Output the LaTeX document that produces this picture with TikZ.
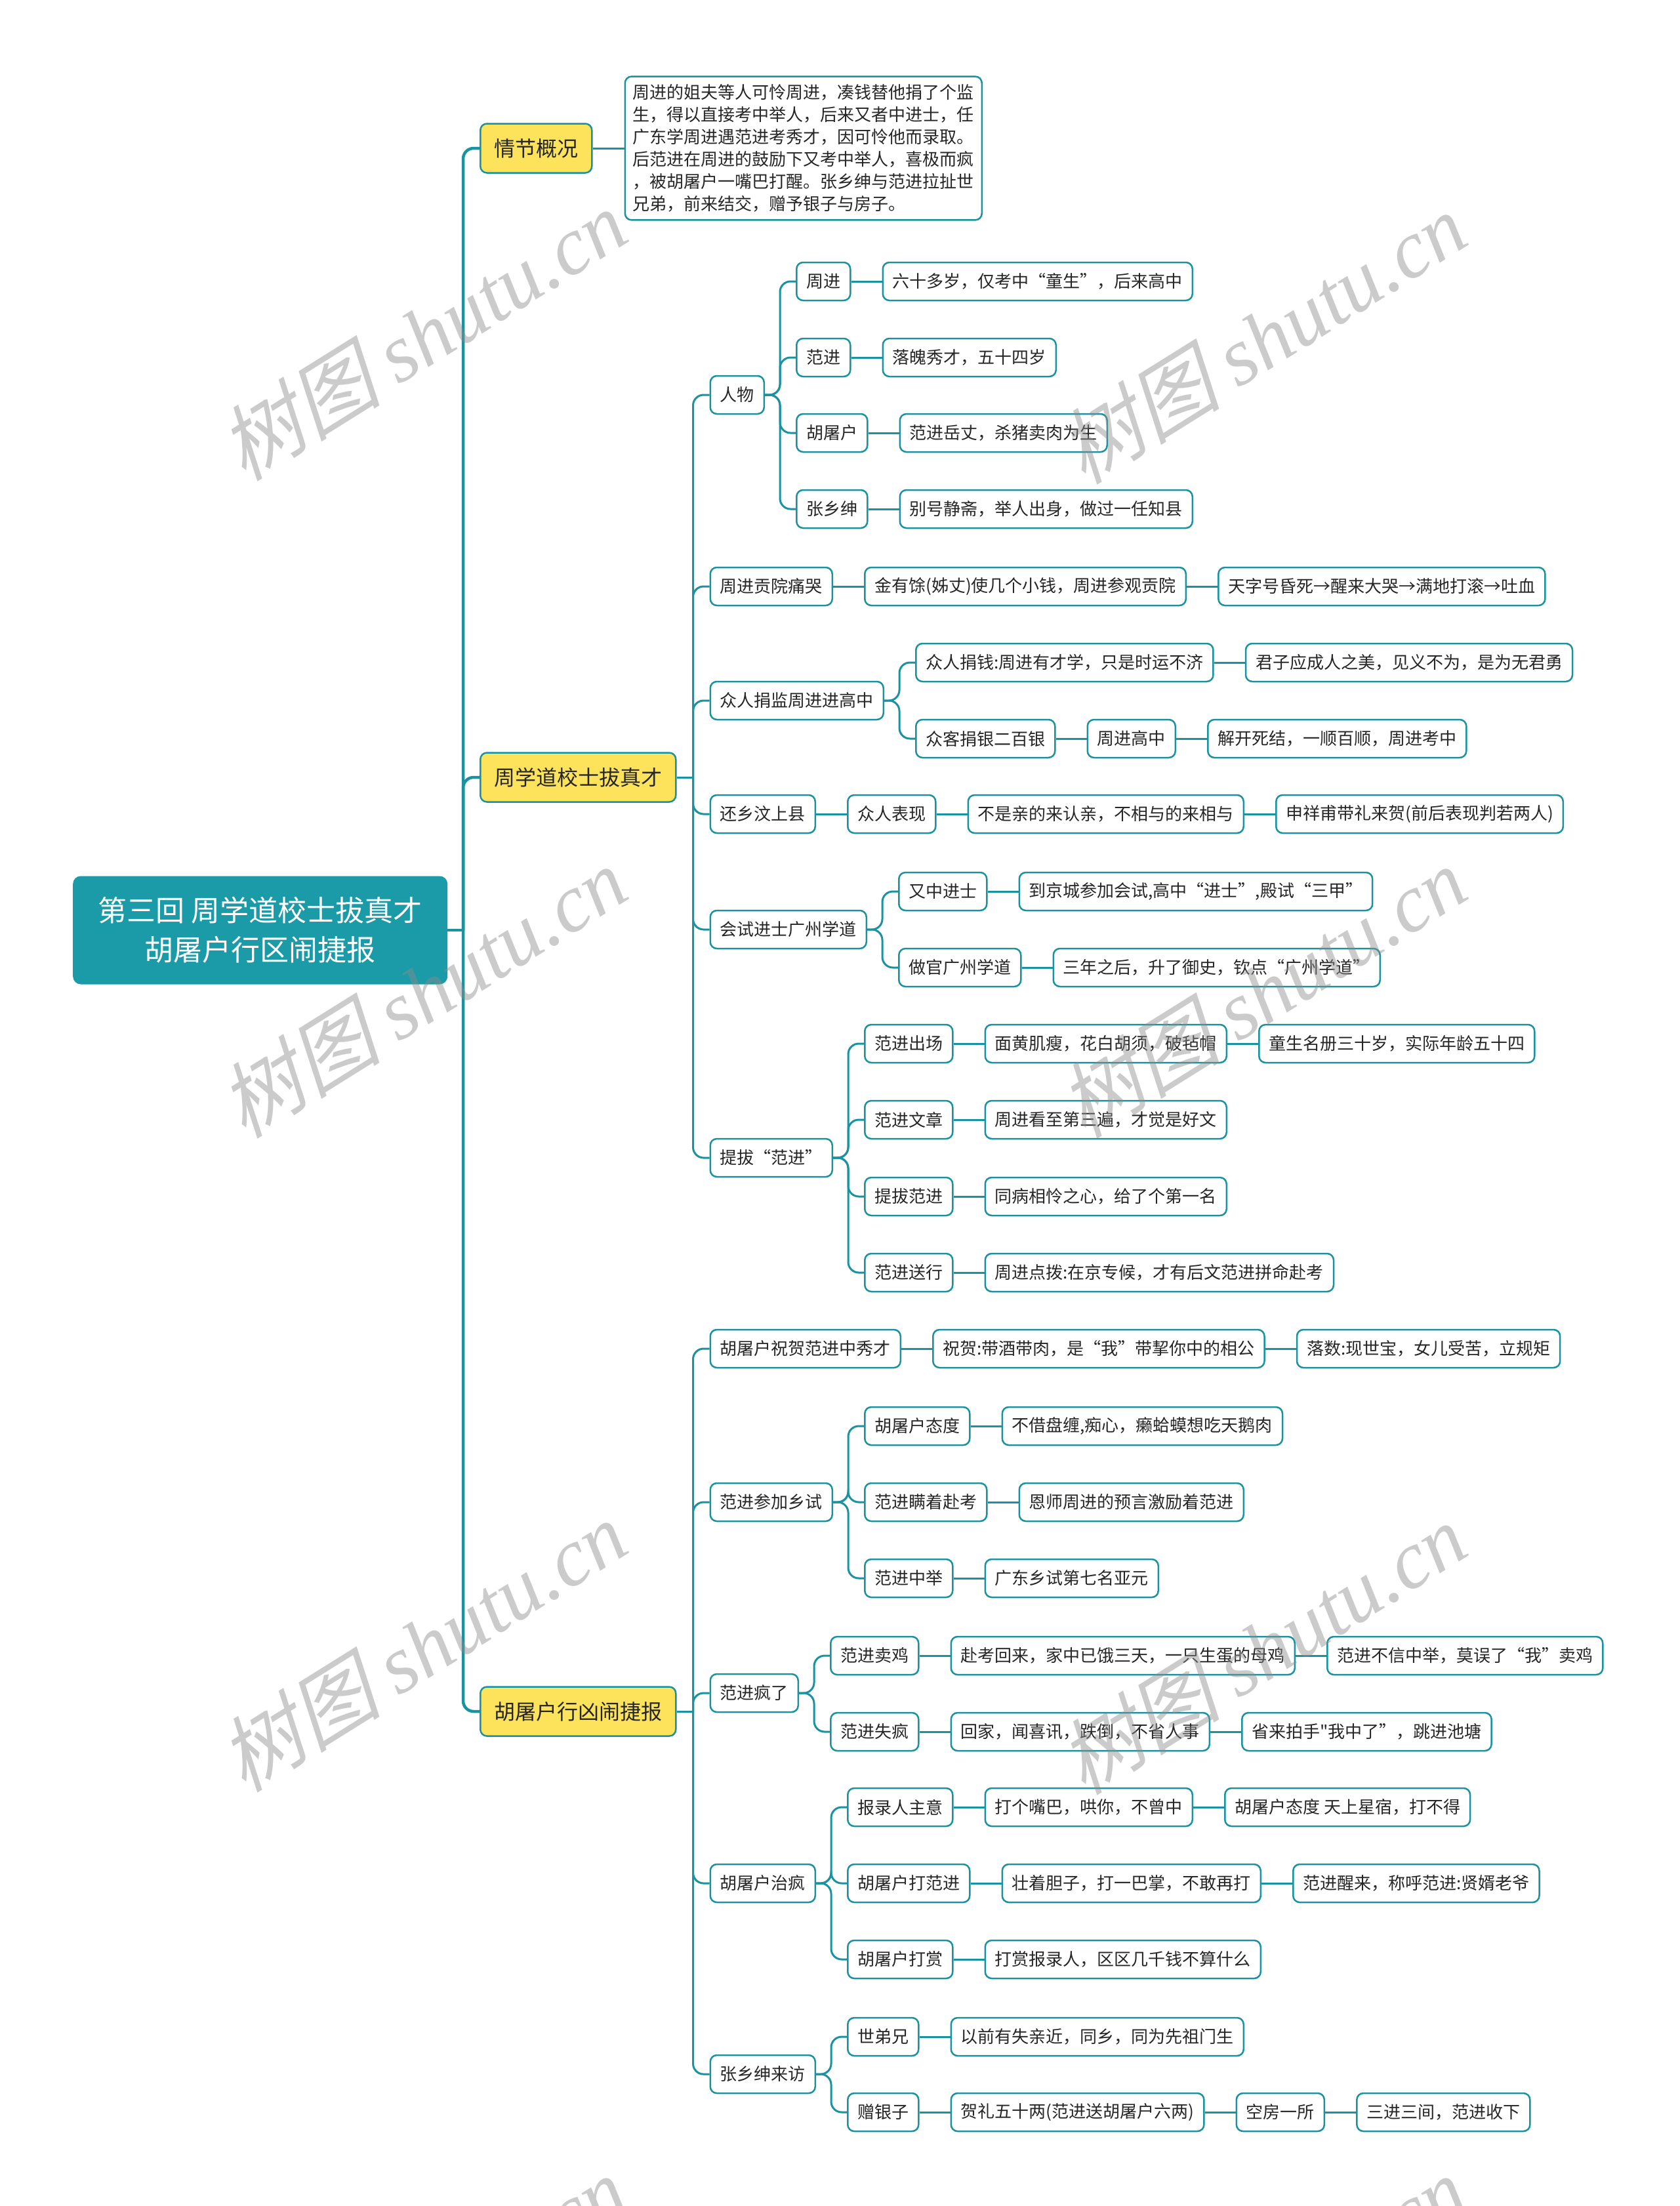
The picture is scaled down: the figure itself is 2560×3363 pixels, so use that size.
\documentclass[tikz,border=0pt]{standalone}
\usepackage{fontspec}
\newfontfamily\cjk{Noto Sans CJK SC}
\newfontfamily\wmcjk[FakeSlant=0.25]{Noto Sans CJK SC}
\newfontfamily\wmlat{Liberation Serif}
\usepackage{xcolor}
\usepackage{tikz}
\usetikzlibrary{positioning}
\definecolor{mapline}{HTML}{1A929F}
\definecolor{rootfill}{HTML}{1B9AA8}
\definecolor{topicfill}{HTML}{FDE35C}

\begin{document}
\begin{tikzpicture}[
    x=1pt, y=-1pt,
    node distance=47pt,
    rootbox/.style={rectangle, rounded corners=12pt, fill=rootfill, text=white, minimum width=571pt, minimum height=165pt, inner xsep=30pt, align=center, font=\cjk\fontsize{44}{60}\selectfont},
    topicbox/.style={rectangle, rounded corners=10pt, draw=mapline, line width=2.5pt, fill=topicfill, minimum height=75pt, inner xsep=21pt, text=black!85, font=\cjk\fontsize{32}{38}\selectfont},
    leafbox/.style={rectangle, rounded corners=10pt, draw=mapline, line width=2.5pt, fill=white, minimum height=58pt, inner xsep=15pt, text=black!85, font=\cjk\fontsize{26}{30}\selectfont},
    sumbox/.style={leafbox, align=left, inner sep=12pt, font=\cjk\fontsize{26}{34}\selectfont},
    maplink/.style={mapline, line width=3pt, rounded corners=16pt},
    trunkline/.style={maplink, line width=4.5pt},
    wmark/.style={rotate=32, text=black!45, text opacity=0.45, font=\fontsize{125}{125}\selectfont}
]
\fill[white] (0,0) rectangle (2560,3363);
\useasboundingbox (0,0) rectangle (2560,3363);

\node[rootbox, anchor=west] (root) at (111,1418) {第三回 周学道校士拔真才\\胡屠户行区闹捷报};

\node[topicbox, anchor=west] (qj) at (731,226) {情节概况};
\node[topicbox, anchor=west] (zxd) at (731,1185) {周学道校士拔真才};
\node[topicbox, anchor=west] (htt) at (731,2609) {胡屠户行凶闹捷报};

\node[sumbox, right=48pt of qj] (gk) {周进的姐夫等人可怜周进，凑钱替他捐了个监\\生，得以直接考中举人，后来又者中进士，任\\广东学周进遇范进考秀才，因可怜他而录取。\\后范进在周进的鼓励下又考中举人，喜极而疯\\，被胡屠户一嘴巴打醒。张乡绅与范进拉扯世\\兄弟，前来结交，赠予银子与房子。};

\node[leafbox, anchor=west, xshift=50pt] (rw) at (zxd.east |- 0,602) {人物};
\node[leafbox, anchor=west, xshift=50pt] (gyt) at (zxd.east |- 0,894) {周进贡院痛哭};
\node[leafbox, anchor=west, xshift=50pt] (jj) at (zxd.east |- 0,1068) {众人捐监周进进高中};
\node[leafbox, anchor=west, xshift=50pt] (hx) at (zxd.east |- 0,1241) {还乡汶上县};
\node[leafbox, anchor=west, xshift=50pt] (hs) at (zxd.east |- 0,1417) {会试进士广州学道};
\node[leafbox, anchor=west, xshift=50pt] (tb) at (zxd.east |- 0,1765) {提拔“范进”};

\node[leafbox, anchor=west, xshift=47pt] (zj) at (rw.east |- 0,429) {周进};
\node[leafbox, right=of zj] (zj1) {六十多岁，仅考中“童生”，后来高中};
\node[leafbox, anchor=west, xshift=47pt] (fj) at (rw.east |- 0,545) {范进};
\node[leafbox, right=of fj] (fj1) {落魄秀才，五十四岁};
\node[leafbox, anchor=west, xshift=47pt] (hth) at (rw.east |- 0,660) {胡屠户};
\node[leafbox, right=of hth] (hth1) {范进岳丈，杀猪卖肉为生};
\node[leafbox, anchor=west, xshift=47pt] (zxs) at (rw.east |- 0,776) {张乡绅};
\node[leafbox, right=of zxs] (zxs1) {别号静斋，举人出身，做过一任知县};

\node[leafbox, right=of gyt] (gyt1) {金有馀(姊丈)使几个小钱，周进参观贡院};
\node[leafbox, right=of gyt1] (gyt2) {天字号昏死→醒来大哭→满地打滚→吐血};

\node[leafbox, anchor=west, xshift=47pt] (jq) at (jj.east |- 0,1010) {众人捐钱:周进有才学，只是时运不济};
\node[leafbox, right=of jq] (jq1) {君子应成人之美，见义不为，是为无君勇};
\node[leafbox, anchor=west, xshift=47pt] (jk) at (jj.east |- 0,1126) {众客捐银二百银};
\node[leafbox, right=of jk] (jk1) {周进高中};
\node[leafbox, right=of jk1] (jk2) {解开死结，一顺百顺，周进考中};

\node[leafbox, right=of hx] (hx1) {众人表现};
\node[leafbox, right=of hx1] (hx2) {不是亲的来认亲，不相与的来相与};
\node[leafbox, right=of hx2] (hx3) {申祥甫带礼来贺(前后表现判若两人)};

\node[leafbox, anchor=west, xshift=47pt] (yz) at (hs.east |- 0,1359) {又中进士};
\node[leafbox, right=of yz] (yz1) {到京城参加会试,高中“进士”,殿试“三甲”};
\node[leafbox, anchor=west, xshift=47pt] (zg) at (hs.east |- 0,1475) {做官广州学道};
\node[leafbox, right=of zg] (zg1) {三年之后，升了御史，钦点“广州学道”};

\node[leafbox, anchor=west, xshift=47pt] (cc) at (tb.east |- 0,1591) {范进出场};
\node[leafbox, right=of cc] (cc1) {面黄肌瘦，花白胡须，破毡帽};
\node[leafbox, right=of cc1] (cc2) {童生名册三十岁，实际年龄五十四};
\node[leafbox, anchor=west, xshift=47pt] (wz) at (tb.east |- 0,1707) {范进文章};
\node[leafbox, right=of wz] (wz1) {周进看至第三遍，才觉是好文};
\node[leafbox, anchor=west, xshift=47pt] (tf) at (tb.east |- 0,1824) {提拔范进};
\node[leafbox, right=of tf] (tf1) {同病相怜之心，给了个第一名};
\node[leafbox, anchor=west, xshift=47pt] (sx) at (tb.east |- 0,1940) {范进送行};
\node[leafbox, right=of sx] (sx1) {周进点拨:在京专候，才有后文范进拼命赴考};

\node[leafbox, anchor=west, xshift=50pt] (zh) at (htt.east |- 0,2056) {胡屠户祝贺范进中秀才};
\node[leafbox, anchor=west, xshift=50pt] (cj) at (htt.east |- 0,2290) {范进参加乡试};
\node[leafbox, anchor=west, xshift=50pt] (fl) at (htt.east |- 0,2581) {范进疯了};
\node[leafbox, anchor=west, xshift=50pt] (zl) at (htt.east |- 0,2871) {胡屠户治疯};
\node[leafbox, anchor=west, xshift=50pt] (lf) at (htt.east |- 0,3162) {张乡绅来访};

\node[leafbox, right=of zh] (zh1) {祝贺:带酒带肉，是“我”带挈你中的相公};
\node[leafbox, right=of zh1] (zh2) {落数:现世宝，女儿受苦，立规矩};

\node[leafbox, anchor=west, xshift=47pt] (td) at (cj.east |- 0,2174) {胡屠户态度};
\node[leafbox, right=of td] (td1) {不借盘缠,痴心，癞蛤蟆想吃天鹅肉};
\node[leafbox, anchor=west, xshift=47pt] (mz) at (cj.east |- 0,2290) {范进瞒着赴考};
\node[leafbox, right=of mz] (mz1) {恩师周进的预言激励着范进};
\node[leafbox, anchor=west, xshift=47pt] (zju) at (cj.east |- 0,2406) {范进中举};
\node[leafbox, right=of zju] (zju1) {广东乡试第七名亚元};

\node[leafbox, anchor=west, xshift=47pt] (mj) at (fl.east |- 0,2524) {范进卖鸡};
\node[leafbox, right=of mj] (mj1) {赴考回来，家中已饿三天，一只生蛋的母鸡};
\node[leafbox, right=of mj1] (mj2) {范进不信中举，莫误了“我”卖鸡};
\node[leafbox, anchor=west, xshift=47pt] (sf) at (fl.east |- 0,2640) {范进失疯};
\node[leafbox, right=of sf] (sf1) {回家，闻喜讯，跌倒，不省人事};
\node[leafbox, right=of sf1] (sf2) {省来拍手"我中了”，跳进池塘};

\node[leafbox, anchor=west, xshift=47pt] (bl) at (zl.east |- 0,2755) {报录人主意};
\node[leafbox, right=of bl] (bl1) {打个嘴巴，哄你，不曾中};
\node[leafbox, right=of bl1] (bl2) {胡屠户态度 天上星宿，打不得};
\node[leafbox, anchor=west, xshift=47pt] (dj) at (zl.east |- 0,2871) {胡屠户打范进};
\node[leafbox, right=of dj] (dj1) {壮着胆子，打一巴掌，不敢再打};
\node[leafbox, right=of dj1] (dj2) {范进醒来，称呼范进:贤婿老爷};
\node[leafbox, anchor=west, xshift=47pt] (ds) at (zl.east |- 0,2987) {胡屠户打赏};
\node[leafbox, right=of ds] (ds1) {打赏报录人，区区几千钱不算什么};

\node[leafbox, anchor=west, xshift=47pt] (sd) at (lf.east |- 0,3105) {世弟兄};
\node[leafbox, right=of sd] (sd1) {以前有失亲近，同乡，同为先祖门生};
\node[leafbox, anchor=west, xshift=47pt] (zy) at (lf.east |- 0,3220) {赠银子};
\node[leafbox, right=of zy] (zy1) {贺礼五十两(范进送胡屠户六两)};
\node[leafbox, right=of zy1] (zy2) {空房一所};
\node[leafbox, right=of zy2] (zy3) {三进三间，范进收下};

\draw[trunkline] (root.east) -- (706,1418);
\foreach \t in {qj,zxd,htt}
    \draw[trunkline] (706,1418) |- (\t.west);

\draw[maplink] (zxd.east) -- ++(25,0);
\foreach \c in {rw,gyt,jj,hx,hs,tb}
    \draw[maplink] ([xshift=25pt]zxd.east) |- (\c.west);
\draw[maplink] (htt.east) -- ++(25,0);
\foreach \c in {zh,cj,fl,zl,lf}
    \draw[maplink] ([xshift=25pt]htt.east) |- (\c.west);

\foreach \p/\c in {rw/zj,rw/fj,rw/hth,rw/zxs,jj/jq,jj/jk,hs/yz,hs/zg,tb/cc,tb/wz,tb/tf,tb/sx,
                   cj/td,cj/mz,cj/zju,fl/mj,fl/sf,zl/bl,zl/dj,zl/ds,lf/sd,lf/zy}
    \draw[maplink] (\p.east) -- ++(23,0) |- (\c.west);

\foreach \a/\b in {qj/gk,zj/zj1,fj/fj1,hth/hth1,zxs/zxs1,gyt/gyt1,gyt1/gyt2,jq/jq1,jk/jk1,jk1/jk2,
                   hx/hx1,hx1/hx2,hx2/hx3,yz/yz1,zg/zg1,cc/cc1,cc1/cc2,wz/wz1,tf/tf1,sx/sx1,
                   zh/zh1,zh1/zh2,td/td1,mz/mz1,zju/zju1,mj/mj1,mj1/mj2,sf/sf1,sf1/sf2,
                   bl/bl1,bl1/bl2,dj/dj1,dj1/dj2,ds/ds1,sd/sd1,zy/zy1,zy1/zy2,zy2/zy3}
    \draw[maplink] (\a.east) -- (\b.west);

\foreach \wx/\wy [count=\i] in {643/510,1923/515,643/1512,1923/1512,643/2509,1923/2513,643/3508,1923/3508}
    \node[wmark] (wm\i) at (\wx,\wy) {\wmcjk 树图 \wmlat\itshape shutu.cn};
\end{tikzpicture}
\end{document}
